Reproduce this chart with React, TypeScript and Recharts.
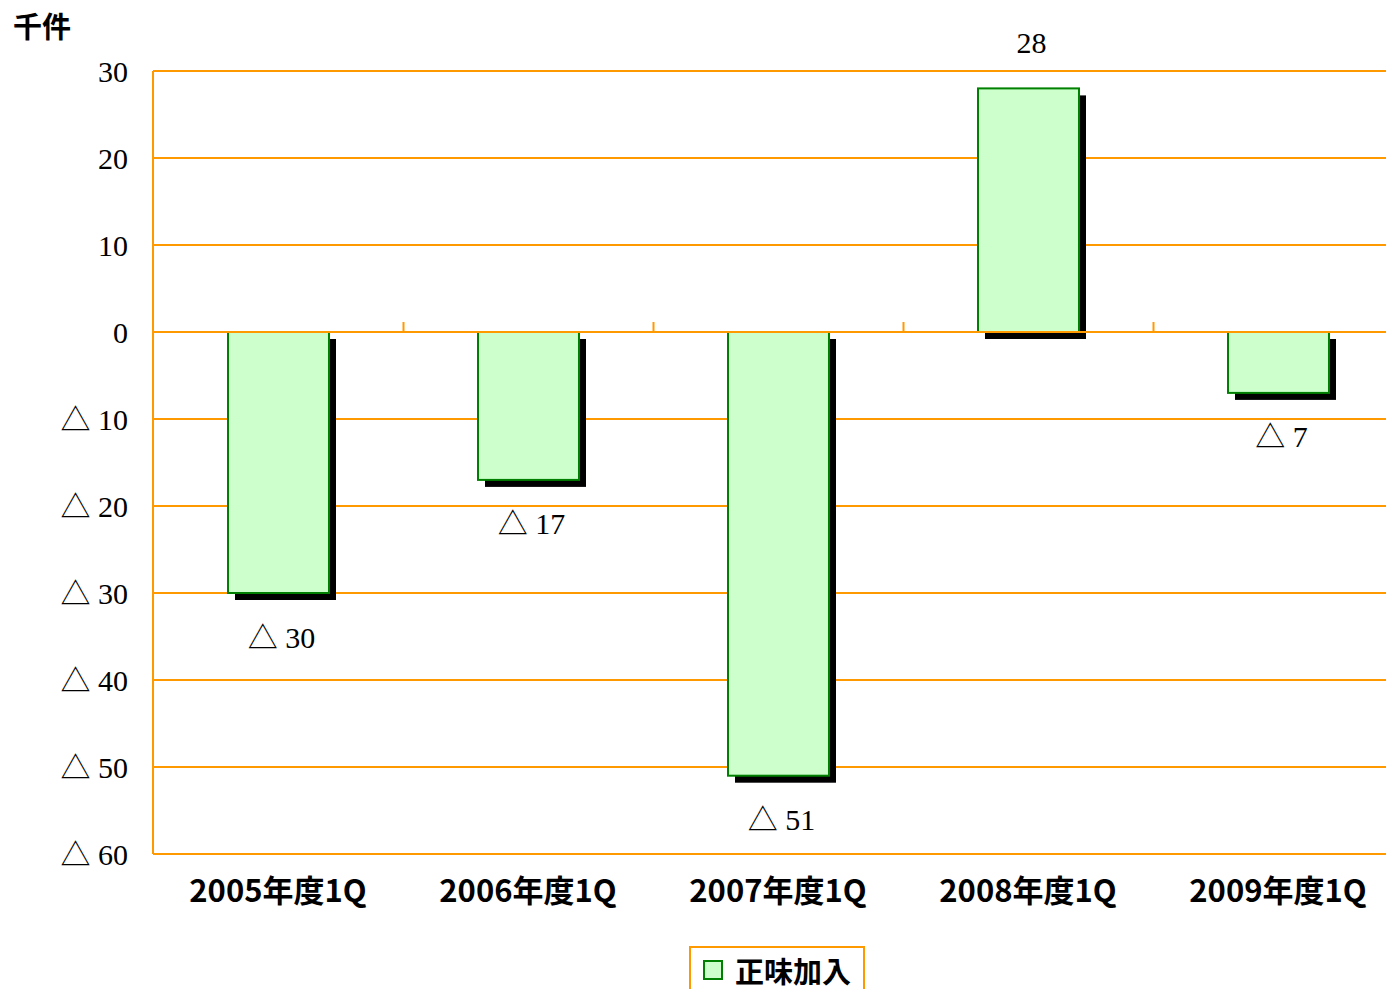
import {
  BarChart,
  Bar,
  XAxis,
  YAxis,
  CartesianGrid,
  ReferenceLine,
  LabelList,
} from 'recharts';

const quarters = ['2005年度1Q', '2006年度1Q', '2007年度1Q', '2008年度1Q', '2009年度1Q'];
const netAdds = [-30, -17, -51, 28, -7];
const yTicks = [-60, -50, -40, -30, -20, -10, 0, 10, 20, 30];

const ORANGE = '#FF9900';
const SERIF = '"Liberation Serif", "Noto Sans CJK JP", serif';
const GOTHIC = '"Noto Sans CJK JP", "Noto Sans", sans-serif';

const CHART_W = 1403;
const CHART_H = 989;
const LEFT = 153;
const CAT_W = (CHART_W - LEFT) / quarters.length;

const data = quarters.map((q, i) => ({ name: q, value: netAdds[i] }));

const fmt = (v: number) => (v < 0 ? `△ ${-v}` : `${v}`);

// bar with a drop shadow + the little divider tick on the zero line
function ShadowBar(props: any) {
  const { x, y, width, height, value } = props;
  const top = Math.min(y, y + height);
  const h = Math.abs(height);
  const v = Array.isArray(value) ? value[1] : value;
  const zeroY = v < 0 ? top : top + h;
  const tickX = x + width / 2 + CAT_W / 2;
  return (
    <g>
      <rect x={x + 7} y={top + 7} width={width} height={h} fill="#000" />
      <rect x={x} y={top} width={width} height={h} fill="#CCFFCC" stroke="#008000" strokeWidth={2} />
      <line x1={tickX} x2={tickX} y1={zeroY - 10} y2={zeroY} stroke={ORANGE} strokeWidth={2} />
    </g>
  );
}

function ValueLabel(props: any) {
  const { x, y, width, height, value } = props;
  const top = Math.min(y, y + height);
  const bottom = Math.max(y, y + height);
  const ty = value < 0 ? bottom + 44 : top - 46;
  return (
    <text
      x={x + width / 2 + 3}
      y={ty}
      textAnchor="middle"
      dominantBaseline="central"
      fontFamily={SERIF}
      fontSize={30}
      fill="#000"
    >
      {fmt(value)}
    </text>
  );
}

function LegendBox() {
  return (
    <div
      style={{
        position: 'absolute',
        left: 689,
        top: 946,
        display: 'flex',
        alignItems: 'center',
        gap: 12,
        border: `2px solid ${ORANGE}`,
        padding: '6px 12px 16px 12px',
        background: '#fff',
      }}
    >
      <span
        style={{
          width: 16,
          height: 16,
          background: '#CCFFCC',
          border: '2px solid #008000',
          display: 'inline-block',
        }}
      />
      <span style={{ fontFamily: GOTHIC, fontWeight: 700, fontSize: 29, lineHeight: '32px', color: '#000' }}>
        正味加入
      </span>
    </div>
  );
}

export default function App() {
  return (
    <div
      style={{
        position: 'absolute',
        left: 0,
        top: 0,
        width: 1386,
        height: 989,
        overflow: 'hidden',
        background: '#fff',
      }}
    >
      <div
        style={{
          position: 'absolute',
          left: 13,
          top: 4,
          fontFamily: GOTHIC,
          fontWeight: 700,
          fontSize: 29,
          color: '#000',
        }}
      >
        千件
      </div>
      <BarChart
        width={CHART_W}
        height={CHART_H}
        data={data}
        margin={{ top: 71, right: 0, bottom: 75, left: 0 }}
        barSize={101}
      >
        <CartesianGrid horizontal vertical={false} stroke={ORANGE} strokeWidth={2} />
        <XAxis
          dataKey="name"
          axisLine={false}
          tickLine={false}
          height={60}
          tickMargin={20}
          tick={{ fontFamily: GOTHIC, fontWeight: 700, fontSize: 31, fill: '#000' }}
        />
        <YAxis
          width={LEFT}
          domain={[-60, 30]}
          ticks={yTicks}
          interval={0}
          axisLine={{ stroke: ORANGE, strokeWidth: 2 }}
          tickLine={false}
          tickSize={0}
          tickMargin={25}
          tickFormatter={fmt}
          tick={{ fontFamily: SERIF, fontSize: 30, fill: '#000' }}
        />
        <Bar dataKey="value" name="正味加入" shape={<ShadowBar />} isAnimationActive={false}>
          <LabelList dataKey="value" content={<ValueLabel />} />
        </Bar>
        <ReferenceLine y={0} stroke={ORANGE} strokeWidth={2} />
      </BarChart>
      <LegendBox />
    </div>
  );
}
